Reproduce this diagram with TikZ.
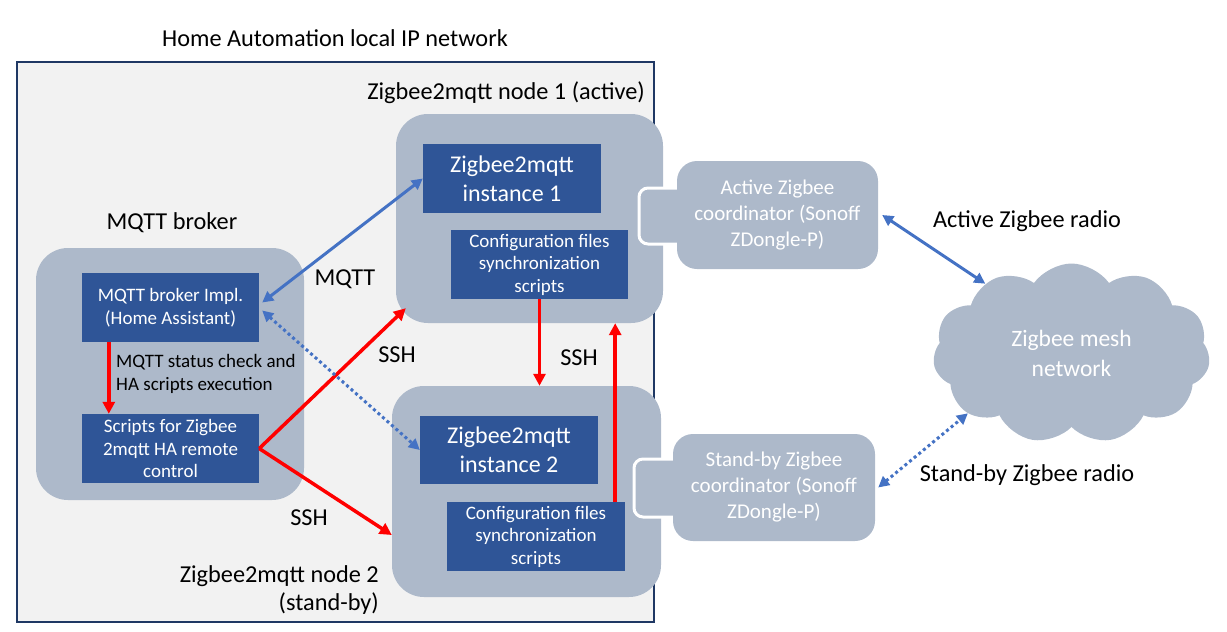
\documentclass[tikz,border=0pt]{standalone}
\usepackage{fontspec}
\setmainfont{Carlito}
\usetikzlibrary{arrows.meta,shapes.symbols}
\definecolor{bgfill}{HTML}{F2F2F2}
\definecolor{framecol}{HTML}{1F3864}
\definecolor{grayblue}{HTML}{ADB9CA}
\definecolor{darkblue}{HTML}{2F5597}
\definecolor{arrowblue}{HTML}{4472C4}
\definecolor{arrowred}{HTML}{FF0000}
\begin{document}
\begin{tikzpicture}[x=1pt,y=-1pt,
  outerbox/.style={fill=grayblue, rounded corners=32pt, inner sep=0pt},
  innerbox/.style={fill=darkblue, text=white, align=center, inner sep=0pt},
  smalltext/.style={font=\fontsize{19}{22.5}\selectfont},
  bigtext/.style={font=\fontsize{24}{29}\selectfont},
  coordbox/.style={fill=grayblue, rounded corners=20pt, text=white, align=center, inner sep=0pt, font=\fontsize{21}{26}\selectfont},
  tabbox/.style={fill=grayblue, draw=white, line width=3pt, rounded corners=9pt, inner sep=0pt},
  lbl/.style={text=black, inner sep=0pt, font=\fontsize{24.3}{28.5}\selectfont},
  redarrow/.style={draw=arrowred, line width=3.5pt, -{Triangle[length=12pt,width=12pt]}},
  bluearrow/.style={draw=arrowblue, line width=3pt, {Triangle[length=11pt,width=11pt]}-{Triangle[length=11pt,width=11pt]}},
  bluedots/.style={draw=arrowblue, line width=3pt, dash pattern=on 3pt off 3pt, {Triangle[length=11pt,width=11pt]}-{Triangle[length=11pt,width=11pt]}}
]
\useasboundingbox (0,0) rectangle (1227,632);
% network frame
\node[fill=bgfill, draw=framecol, line width=1.5pt, minimum width=637pt, minimum height=560pt, inner sep=0pt] (net) at (335.5,342) {};
\node[lbl] (nettitle) at (335,38) {Home Automation local IP network};

% outer boxes
\node[outerbox, minimum width=268pt, minimum height=252pt] (broker) at (170,374) {};
\node[outerbox, minimum width=267pt, minimum height=209pt] (node1) at (529.5,218.5) {};
\node[outerbox, minimum width=269pt, minimum height=211pt] (node2) at (526.5,491.5) {};

% labels of outer boxes
\node[lbl] (brokerlbl) at (172,223) {MQTT broker};
\node[lbl, anchor=east] (node1lbl) at (645,93) {Zigbee2mqtt node 1 (active)};
\node[lbl, anchor=east, align=right] (node2lbl) at (379,590) {Zigbee2mqtt node 2\\(stand-by)};

% inner boxes
\node[innerbox, smalltext, minimum width=177pt, minimum height=69pt] (impl) at (170.5,307.5) {MQTT broker Impl.\\(Home Assistant)};
\node[innerbox, smalltext, minimum width=177pt, minimum height=69pt] (scripts) at (170.5,448.5) {Scripts for Zigbee\\2mqtt HA remote\\control};
\node[innerbox, bigtext, minimum width=178pt, minimum height=69pt] (inst1) at (512,178.5) {Zigbee2mqtt\\instance 1};
\node[innerbox, smalltext, minimum width=177pt, minimum height=69pt] (cfg1) at (539.5,264.5) {Configuration files\\synchronization\\scripts};
\node[innerbox, bigtext, minimum width=178pt, minimum height=68pt] (inst2) at (509,450) {Zigbee2mqtt\\instance 2};
\node[innerbox, smalltext, minimum width=178pt, minimum height=69pt] (cfg2) at (536,536.5) {Configuration files\\synchronization\\scripts};

% coordinators with tabs
\node[tabbox, minimum width=52pt, minimum height=56pt] (tab1) at (665,216) {};
\node[coordbox, minimum width=201pt, minimum height=108pt] (coord1) at (777.5,215) {Active Zigbee\\coordinator (Sonoff\\ZDongle-P)};
\node[tabbox, minimum width=56pt, minimum height=58pt] (tab2) at (662,488) {};
\node[coordbox, minimum width=202pt, minimum height=107pt] (coord2) at (774,487.5) {Stand-by Zigbee\\coordinator (Sonoff\\ZDongle-P)};

% cloud
\node[cloud, cloud puffs=11, cloud puff arc=110, aspect=1.64, fill=grayblue, text=white, align=center, inner sep=0pt,
      minimum width=277pt, minimum height=180pt, font=\fontsize{23.5}{30}\selectfont] (mesh) at (1071.5,353.5) {Zigbee mesh\\network\hspace*{0pt}};

% connectors
\draw[redarrow] ([xshift=27pt]impl.south west) -- ([xshift=27pt]scripts.north west);
\draw[redarrow] (scripts.east) -- ([xshift=10pt,yshift=15pt]node1.south west);
\draw[redarrow] (scripts.east) -- ([yshift=-43.5pt]node2.west);
\draw[redarrow] (cfg1.south) -- (cfg1.south |- node2.north);
\draw[redarrow] ([xshift=-10pt]cfg2.north east) -- ([xshift=-10pt]cfg2.north east |- node1.south);
\draw[bluearrow] ([xshift=3pt,yshift=5pt]impl.east) -- (inst1.west);
\draw[bluedots] ([xshift=3pt,yshift=-3pt]impl.east) -- (inst2.west);
\draw[bluearrow] ([xshift=4pt]coord1.east) -- (mesh.141);
\draw[bluedots] ([xshift=3pt]coord2.east) -- (mesh.210);

% connector labels
\node[lbl] (mqttlbl) at (345,279) {MQTT};
\node[lbl, anchor=west, align=left, font=\fontsize{19}{22.5}\selectfont] (statuslbl) at (116,374) {MQTT status check and\\HA scripts execution};
\node[lbl] (ssh1) at (397,355) {SSH};
\node[lbl] (ssh2) at (309,518) {SSH};
\node[lbl] (ssh3) at (579,358) {SSH};
\node[lbl] (activelbl) at (1027,221) {Active Zigbee radio};
\node[lbl] (standbylbl) at (1027,475) {Stand-by Zigbee radio};
\end{tikzpicture}
\end{document}
